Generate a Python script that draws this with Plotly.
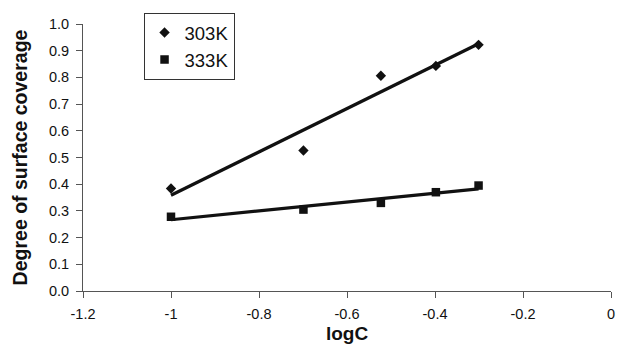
import numpy as np
import plotly.graph_objects as go

logC = [-1.0, -0.699, -0.523, -0.398, -0.301]
theta_303 = [0.384, 0.526, 0.806, 0.843, 0.922]
theta_333 = [0.278, 0.305, 0.330, 0.370, 0.395]
series_names = ["303K", "333K"]
x_ticks = [-1.2, -1.0, -0.8, -0.6, -0.4, -0.2, 0.0]
x_tick_labels = ["-1.2", "-1", "-0.8", "-0.6", "-0.4", "-0.2", "0"]
y_ticks = [0.0, 0.1, 0.2, 0.3, 0.4, 0.5, 0.6, 0.7, 0.8, 0.9, 1.0]

fig = go.Figure()
for name, ys, sym, size in [(series_names[0], theta_303, "diamond", 8), (series_names[1], theta_333, "square", 8.5)]:
    xs = np.array(logC)
    slope, icpt = np.polyfit(xs, np.array(ys), 1)
    xl = [xs.min(), xs.max()]
    fig.add_trace(go.Scatter(x=xl, y=[slope * v + icpt for v in xl], mode="lines",
                             line=dict(color="#111111", width=3.2), showlegend=False, hoverinfo="skip"))
    fig.add_trace(go.Scatter(x=logC, y=ys, mode="markers", name=name,
                             marker=dict(symbol=sym, size=size, color="#111111")))

fig.update_layout(
    width=622, height=348,
    margin=dict(l=83, r=7, t=24, b=56),
    paper_bgcolor="white", plot_bgcolor="white",
    font=dict(family="Liberation Sans, Arial, sans-serif", size=14, color="#111111"),
    showlegend=True,
    legend=dict(
        x=(144 - 83) / 532, y=1 + (24 - 13) / 267.7, xanchor="left", yanchor="top",
        bgcolor="white", bordercolor="#333333", borderwidth=1,
        font=dict(size=18.5), itemwidth=30, tracegroupgap=0,
    ),
)
fig.update_xaxes(range=[-1.2, 0], tickvals=x_ticks, ticktext=x_tick_labels,
                 showgrid=False, zeroline=False, showline=True, linecolor="#555555", linewidth=1,
                 ticks="outside", ticklen=6, tickcolor="#555555", ticklabelstandoff=4,
                 title=dict(text="<b>logC</b>", font=dict(size=19), standoff=5),
                 tickfont=dict(size=14.5))
fig.update_yaxes(range=[0, 1.0], tickvals=y_ticks, tickformat=".1f",
                 showgrid=False, zeroline=False, showline=True, linecolor="#555555", linewidth=1,
                 ticks="outside", ticklen=6, tickcolor="#555555", ticklabelstandoff=4,
                 title=dict(text="<b>Degree of surface coverage</b>", font=dict(size=19.5), standoff=16),
                 tickfont=dict(size=14.5))
fig.write_html("out.html")
